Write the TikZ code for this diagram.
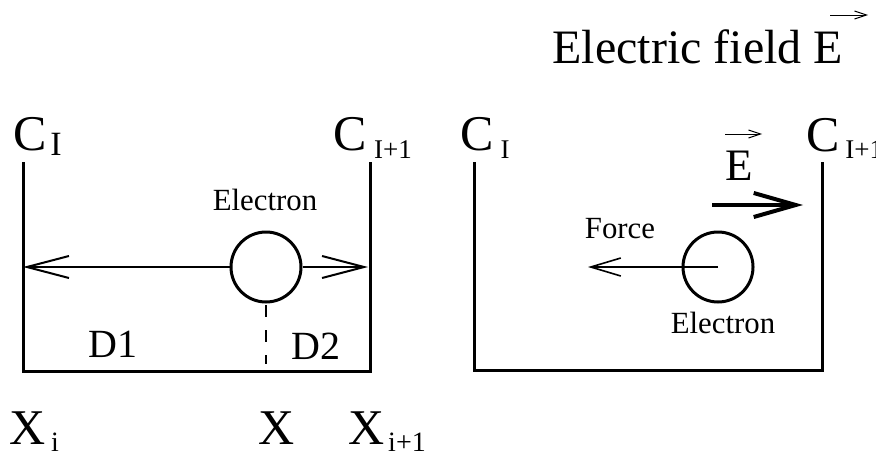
\documentclass[tikz,border=0pt]{standalone}
\usepackage{fontspec}
\setmainfont{Liberation Serif}
\usetikzlibrary{arrows.meta}

\tikzset{
  wall/.style={line width=1.5pt,line cap=rect},
  bar/.style={line width=1pt,-{Straight Barb[length=21pt,width=11pt,line width=1pt]}},
  thinbar/.style={line width=0.8pt,-{Straight Barb[length=15pt,width=9pt,line width=0.8pt]}},
  fatbar/.style={line width=2pt,-{Straight Barb[length=21pt,width=12pt,line width=2pt]}},
  vecbar/.style={line width=0.5pt,-{Straight Barb[length=6pt,width=4pt,line width=0.5pt]}},
  electron/.style={circle,draw,line width=1.5pt,minimum size=35pt,inner sep=0pt},
  txt/.style={inner sep=0pt,anchor=base},
  big/.style={txt,font=\fontsize{25}{30}\selectfont},
  midsize/.style={txt,font=\fontsize{20}{24}\selectfont},
  small/.style={txt,font=\fontsize{15.4}{18}\selectfont},
  tiny/.style={txt,font=\fontsize{13.5}{16}\selectfont}
}

\begin{document}
\begin{tikzpicture}[x=0.5pt,y=-0.5pt]
\useasboundingbox (0,0) rectangle (876,455);
% title
\node[txt,anchor=base west,font=\fontsize{24}{29}\selectfont] (title) at (552,63) {Electric field E};
\coordinate (ta) at (830,15);
\coordinate (tb) at (868,15);
\draw[vecbar] (ta) -- (tb);

% left box
\coordinate (a1) at (23,163);
\coordinate (a2) at (23,371);
\coordinate (a3) at (370,371);
\coordinate (a4) at (370,163);
\draw[wall] (a1) -- (a2) -- (a3) -- (a4);
\node[big] (ca) at (30,150) {C};
\node[txt,font=\fontsize{17}{20}\selectfont] (ca sub) at (56,155) {I};
\node[big] (cb) at (350,150) {C};
\node[tiny] (cb sub) at (393,158) {I+1};
\node[small] (lbl e1) at (265,210) {Electron};
\node[electron] (e1) at (266,267) {};
\coordinate (wl) at (23,267);
\coordinate (wr) at (368,267);
\draw[bar] (e1.west) -- (wl);
\draw[bar] (e1.east) -- (wr);
\coordinate (dtop) at (266,305);
\coordinate (dbot) at (266,364);
\draw[line width=1pt,dash pattern=on 6pt off 6.5pt] (dtop) -- (dbot);
\node[midsize] (d1) at (113,357) {D1};
\node[midsize] (d2) at (316,359) {D2};
\node[big] (xa) at (28,444) {X};
\node[txt,font=\fontsize{14}{17}\selectfont] (xa sub) at (55,451) {i};
\node[big] (xm) at (277,444) {X};
\node[big] (xb) at (367,444) {X};
\node[txt,font=\fontsize{14}{17}\selectfont] (xb sub) at (407,451) {i+1};

% right box
\coordinate (b1) at (474,163);
\coordinate (b2) at (474,370);
\coordinate (b3) at (822,370);
\coordinate (b4) at (822,163);
\draw[wall] (b1) -- (b2) -- (b3) -- (b4);
\node[big] (cc) at (477,150) {C};
\node[tiny] (cc sub) at (505,158) {I};
\node[big] (cd) at (823,151) {C};
\node[tiny,anchor=base west] (cd sub) at (845,158) {I+1};
\node[txt,font=\fontsize{22.5}{27}\selectfont] (ev) at (739,180) {E};
\coordinate (eva) at (725,134);
\coordinate (evb) at (762,134);
\draw[vecbar] (eva) -- (evb);
\coordinate (fa) at (712,205);
\coordinate (fb) at (803,205);
\draw[fatbar] (fa) -- (fb);
\node[small] (force) at (620,238) {Force};
\node[electron] (e2) at (718,267) {};
\coordinate (ftip) at (588,267);
\draw[thinbar] (e2.center) -- (ftip);
\node[small] (lbl e2) at (723,333) {Electron};
\end{tikzpicture}
\end{document}
